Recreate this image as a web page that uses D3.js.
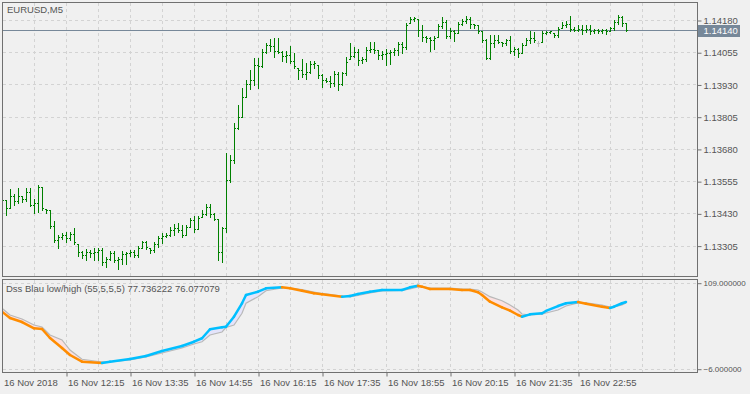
<!DOCTYPE html>
<html>
<head>
<meta charset="utf-8">
<script src="https://cdn.jsdelivr.net/npm/d3@7"></script>
<style>
  body { margin: 0; background: #f0f0f0; }
  svg { display: block; font-family: "Liberation Sans", Arial, sans-serif; font-size: 9.5px; }
</style>
</head>
<body>
<svg id="chart"></svg>
<script>
// EURUSD M5 bars, 16 Nov 2018 10:55 .. 23:55
const barOpen = [
  1.13473,1.13481,1.13450,1.13497,1.13477,1.13497,1.13485,1.13512,1.13462,1.13470,
  1.13532,1.13446,1.13442,1.13380,1.13326,1.13338,1.13345,1.13334,1.13349,1.13311,
  1.13280,1.13268,1.13280,1.13276,1.13280,1.13287,1.13241,1.13252,1.13276,1.13249,
  1.13252,1.13272,1.13276,1.13280,1.13268,1.13295,1.13318,1.13295,1.13287,1.13311,
  1.13334,1.13342,1.13345,1.13365,1.13373,1.13365,1.13345,1.13376,1.13404,1.13369,
  1.13415,1.13427,1.13454,1.13427,1.13407,1.13280,1.13373,1.13559,1.13637,1.13761,
  1.13803,1.13881,1.13932,1.13947,1.14005,1.14001,1.14056,1.14083,1.14079,1.14060,
  1.14056,1.14040,1.14044,1.14021,1.13994,1.13986,1.13970,1.13978,1.14009,1.14005,
  1.13966,1.13947,1.13943,1.13935,1.13970,1.13932,1.13974,1.14029,1.14040,1.14056,
  1.14025,1.14029,1.14064,1.14067,1.14064,1.14044,1.14048,1.14052,1.14056,1.14064,
  1.14087,1.14075,1.14169,1.14184,1.14184,1.14141,1.14114,1.14110,1.14102,1.14114,
  1.14157,1.14172,1.14118,1.14137,1.14130,1.14164,1.14176,1.14184,1.14164,1.14161,
  1.14137,1.14102,1.14032,1.14091,1.14102,1.14095,1.14091,1.14102,1.14060,1.14067,
  1.14052,1.14083,1.14102,1.14110,1.14091,1.14095,1.14130,1.14133,1.14130,1.14122,
  1.14149,1.14161,1.14164,1.14145,1.14141,1.14145,1.14141,1.14145,1.14137,1.14141,
  1.14137,1.14141,1.14137,1.14149,1.14172,1.14192,1.14169
];
const barHigh = [
  1.13489,1.13481,1.13524,1.13505,1.13528,1.13497,1.13528,1.13528,1.13485,1.13539,
  1.13532,1.13446,1.13442,1.13400,1.13345,1.13353,1.13357,1.13357,1.13373,1.13311,
  1.13283,1.13291,1.13287,1.13295,1.13295,1.13295,1.13260,1.13283,1.13283,1.13260,
  1.13283,1.13280,1.13287,1.13287,1.13303,1.13322,1.13322,1.13295,1.13318,1.13342,
  1.13353,1.13353,1.13376,1.13388,1.13392,1.13384,1.13384,1.13411,1.13419,1.13419,
  1.13442,1.13466,1.13466,1.13431,1.13407,1.13376,1.13664,1.13656,1.13780,1.13850,
  1.13916,1.13947,1.13986,1.14032,1.14032,1.14067,1.14091,1.14106,1.14110,1.14110,
  1.14060,1.14060,1.14079,1.14052,1.13994,1.14029,1.14013,1.14021,1.14021,1.14005,
  1.13970,1.13955,1.13963,1.13982,1.13978,1.13978,1.14036,1.14091,1.14075,1.14067,
  1.14036,1.14075,1.14095,1.14095,1.14064,1.14060,1.14067,1.14064,1.14071,1.14095,
  1.14095,1.14169,1.14192,1.14192,1.14184,1.14161,1.14118,1.14114,1.14118,1.14164,
  1.14192,1.14180,1.14149,1.14141,1.14172,1.14184,1.14196,1.14192,1.14164,1.14161,
  1.14137,1.14106,1.14122,1.14122,1.14122,1.14095,1.14106,1.14118,1.14075,1.14071,
  1.14091,1.14110,1.14137,1.14133,1.14098,1.14137,1.14137,1.14137,1.14130,1.14153,
  1.14172,1.14176,1.14196,1.14153,1.14161,1.14161,1.14161,1.14161,1.14145,1.14145,
  1.14145,1.14145,1.14153,1.14180,1.14199,1.14196,1.14169
];
const barLow = [
  1.13470,1.13423,1.13450,1.13462,1.13470,1.13473,1.13477,1.13458,1.13431,1.13435,
  1.13442,1.13431,1.13373,1.13318,1.13295,1.13330,1.13318,1.13326,1.13311,1.13264,
  1.13256,1.13249,1.13260,1.13249,1.13249,1.13229,1.13222,1.13249,1.13241,1.13214,
  1.13233,1.13233,1.13264,1.13260,1.13260,1.13295,1.13291,1.13276,1.13280,1.13299,
  1.13314,1.13338,1.13342,1.13345,1.13357,1.13338,1.13345,1.13376,1.13357,1.13369,
  1.13415,1.13423,1.13415,1.13404,1.13249,1.13241,1.13357,1.13551,1.13625,1.13757,
  1.13803,1.13881,1.13912,1.13928,1.13916,1.13998,1.14052,1.14060,1.14036,1.14052,
  1.14021,1.14017,1.14013,1.13994,1.13951,1.13959,1.13951,1.13974,1.13994,1.13955,
  1.13920,1.13939,1.13920,1.13924,1.13908,1.13928,1.13966,1.14029,1.14036,1.14005,
  1.14013,1.14021,1.14056,1.14052,1.14029,1.14029,1.14005,1.14009,1.14044,1.14044,
  1.14052,1.14067,1.14169,1.14176,1.14118,1.14098,1.14095,1.14060,1.14067,1.14114,
  1.14149,1.14110,1.14110,1.14098,1.14130,1.14161,1.14169,1.14149,1.14149,1.14130,
  1.14095,1.14029,1.14029,1.14075,1.14091,1.14079,1.14083,1.14052,1.14044,1.14036,
  1.14052,1.14083,1.14091,1.14095,1.14079,1.14095,1.14126,1.14130,1.14114,1.14114,
  1.14149,1.14153,1.14137,1.14137,1.14137,1.14126,1.14133,1.14126,1.14130,1.14130,
  1.14130,1.14126,1.14137,1.14141,1.14164,1.14157,1.14137
];
const barClose = [
  1.13481,1.13450,1.13497,1.13477,1.13497,1.13485,1.13512,1.13462,1.13470,1.13532,
  1.13450,1.13442,1.13380,1.13326,1.13338,1.13345,1.13334,1.13349,1.13318,1.13280,
  1.13268,1.13280,1.13276,1.13280,1.13287,1.13241,1.13252,1.13276,1.13249,1.13252,
  1.13272,1.13276,1.13280,1.13268,1.13295,1.13318,1.13299,1.13287,1.13311,1.13334,
  1.13342,1.13345,1.13365,1.13373,1.13365,1.13345,1.13376,1.13404,1.13369,1.13411,
  1.13427,1.13454,1.13427,1.13407,1.13280,1.13373,1.13559,1.13637,1.13761,1.13803,
  1.13881,1.13932,1.13947,1.14005,1.14001,1.14056,1.14083,1.14079,1.14060,1.14056,
  1.14040,1.14044,1.14021,1.14001,1.13986,1.13970,1.13978,1.14009,1.14013,1.13966,
  1.13947,1.13943,1.13935,1.13970,1.13932,1.13974,1.14017,1.14040,1.14056,1.14025,
  1.14029,1.14064,1.14067,1.14064,1.14044,1.14048,1.14052,1.14056,1.14064,1.14087,
  1.14075,1.14161,1.14184,1.14188,1.14141,1.14114,1.14110,1.14102,1.14110,1.14157,
  1.14172,1.14118,1.14137,1.14130,1.14164,1.14176,1.14184,1.14164,1.14161,1.14137,
  1.14102,1.14032,1.14091,1.14102,1.14095,1.14091,1.14102,1.14060,1.14067,1.14052,
  1.14083,1.14102,1.14110,1.14102,1.14091,1.14130,1.14133,1.14137,1.14122,1.14145,
  1.14161,1.14164,1.14145,1.14141,1.14145,1.14141,1.14145,1.14137,1.14141,1.14137,
  1.14141,1.14137,1.14149,1.14172,1.14192,1.14169,1.14140
];

const priceTicks = [1.14180, 1.14055, 1.13930, 1.13805, 1.13680, 1.13555, 1.13430, 1.13305];
const bidPrice = 1.14140;

const timeTickBars = [0, 16, 32, 48, 64, 80, 96, 112, 128, 144];
const timeTickLabels = ["16 Nov 2018", "16 Nov 12:15", "16 Nov 13:35", "16 Nov 14:55", "16 Nov 16:15",
  "16 Nov 17:35", "16 Nov 18:55", "16 Nov 20:15", "16 Nov 21:35", "16 Nov 22:55"];

// Dss Blau low/high (55,5,5,5), read at these bars
const dssBars = [0,2,5,8,10,12,15,17,20,25,27,32,36,40,45,48,50,52,55,56,58,60,61,64,66,70,72,75,78,80,
  85,87,89,92,95,100,102,104,105,107,112,115,117,119,120,122,125,127,129,130,132,135,136,139,141,144,
  146,150,152,153,155,156];
const dssMain = [70.2,61.8,56.4,48.0,47.1,35.1,21.7,12.3,3.4,1.6,3.4,7.0,11.0,17.7,24.4,30.1,34.7,46.7,49.4,50.2,
  63.5,81.5,92.6,97.0,101.5,102.8,101.5,98.3,94.8,93.5,90.3,91.2,93.9,97.0,99.2,99.2,102.8,105.0,103.7,100.6,
  100.6,99.2,99.2,96.2,92.6,83.6,76.1,71.6,65.8,63.5,66.7,68.1,71.2,77.8,81.5,83.2,80.9,76.9,75.2,76.9,81.5,83.2];
const dssSignal = [74.8,65.8,60.5,52.4,49.8,39.1,32.4,19.0,6.6,3.0,3.0,5.6,9.6,15.0,21.7,27.0,30.1,39.1,43.1,49.1,
  52.4,68.1,81.5,90.3,98.3,101.9,101.9,99.9,96.6,94.6,91.2,89.9,91.9,95.2,97.9,98.6,100.6,103.3,103.9,101.9,
  101.9,100.6,100.6,99.2,96.6,90.3,84.9,79.2,72.5,67.1,65.8,67.1,68.5,72.5,77.8,81.9,81.9,79.2,76.5,76.5,79.2,81.9];
const dssLevels = [109, -6];

const svg = d3.select("#chart").attr("width", 750).attr("height", 394);

const x = d3.scaleLinear().domain([0, 1]).range([2, 6]);
const y = d3.scaleLinear().domain([1.13305, 1.14180]).range([245.6, 20]);
const yd = d3.scaleLinear().domain([-6, 109]).range([368.7, 282.7]);

const gridColor = "#d3d3d3";
const frameColor = "#707070";
const textColor = "#555";
const gridBars = d3.range(8, 169, 8);

svg.append("clipPath").attr("id", "clipMain")
  .append("rect").attr("x", 3).attr("y", 3).attr("width", 694).attr("height", 273);
svg.append("clipPath").attr("id", "clipSub")
  .append("rect").attr("x", 3).attr("y", 280).attr("width", 694).attr("height", 92);

// main panel grid
const main = svg.append("g").attr("clip-path", "url(#clipMain)");
main.selectAll("line.vg").data(gridBars).enter().append("line")
  .attr("x1", d => Math.round(x(d)) + 0.5).attr("x2", d => Math.round(x(d)) + 0.5)
  .attr("y1", 3).attr("y2", 276)
  .attr("stroke", gridColor).attr("stroke-dasharray", "3,3");
main.selectAll("line.hg").data(priceTicks).enter().append("line")
  .attr("x1", 3).attr("x2", 697)
  .attr("y1", d => Math.round(y(d)) + 0.5).attr("y2", d => Math.round(y(d)) + 0.5)
  .attr("stroke", gridColor).attr("stroke-dasharray", "3,3");

main.append("line")
  .attr("x1", 3).attr("x2", 697)
  .attr("y1", Math.round(y(bidPrice)) + 0.5).attr("y2", Math.round(y(bidPrice)) + 0.5)
  .attr("stroke", "#778899");

// OHLC bars
const bars = d3.range(barOpen.length);
const barColor = i => barOpen[i] === barClose[i] ? "#c0c0c0" : "#008000";
const bar = main.selectAll("g.bar").data(bars).enter().append("g").attr("fill", barColor);
bar.append("rect")
  .attr("x", i => Math.round(x(i))).attr("width", 1)
  .attr("y", i => Math.round(y(barHigh[i])))
  .attr("height", i => Math.max(1, Math.round(y(barLow[i])) - Math.round(y(barHigh[i])) + 1));
bar.append("rect")
  .attr("x", i => Math.round(x(i)) - 1).attr("width", 1)
  .attr("y", i => Math.round(y(barOpen[i]))).attr("height", 1);
bar.append("rect")
  .attr("x", i => Math.round(x(i)) + 1).attr("width", 1)
  .attr("y", i => Math.round(y(barClose[i]))).attr("height", 1);

// indicator panel
const sub = svg.append("g").attr("clip-path", "url(#clipSub)");
sub.selectAll("line.vg").data(gridBars).enter().append("line")
  .attr("x1", d => Math.round(x(d)) + 0.5).attr("x2", d => Math.round(x(d)) + 0.5)
  .attr("y1", 280).attr("y2", 372)
  .attr("stroke", gridColor).attr("stroke-dasharray", "3,3");
sub.selectAll("line.hg").data(dssLevels).enter().append("line")
  .attr("x1", 3).attr("x2", 697)
  .attr("y1", d => Math.round(yd(d)) + 0.5).attr("y2", d => Math.round(yd(d)) + 0.5)
  .attr("stroke", gridColor).attr("stroke-dasharray", "3,3");

const segs = d3.range(1, dssBars.length);
const isUp = k => dssMain[k] >= dssSignal[k];
sub.selectAll("path.fill").data(segs).enter().append("path")
  .attr("d", k => "M" + [
    [x(dssBars[k - 1]), yd(dssMain[k - 1])], [x(dssBars[k]), yd(dssMain[k])],
    [x(dssBars[k]), yd(dssSignal[k])], [x(dssBars[k - 1]), yd(dssSignal[k - 1])]
  ].join("L") + "Z")
  .attr("fill", k => isUp(k) ? "#e4e4fb" : "#fbe0e0");

sub.append("path")
  .datum(d3.range(dssBars.length))
  .attr("d", d3.line().x(k => x(dssBars[k])).y(k => yd(dssSignal[k])))
  .attr("fill", "none").attr("stroke", "#b8b8b8").attr("stroke-width", 1.2);

sub.selectAll("line.dss").data(segs).enter().append("line")
  .attr("x1", k => x(dssBars[k - 1])).attr("y1", k => yd(dssMain[k - 1]))
  .attr("x2", k => x(dssBars[k])).attr("y2", k => yd(dssMain[k]))
  .attr("stroke", k => isUp(k) ? "#00bfff" : "#ff8c00")
  .attr("stroke-width", 2.5).attr("stroke-linecap", "round");

// frames
svg.append("rect").attr("x", 2.5).attr("y", 2.5).attr("width", 695).attr("height", 274)
  .attr("fill", "none").attr("stroke", frameColor);
svg.append("rect").attr("x", 2.5).attr("y", 279.5).attr("width", 695).attr("height", 93)
  .attr("fill", "none").attr("stroke", frameColor);

// right price scale
const priceAxis = svg.append("g").attr("transform", "translate(697.5,0.5)")
  .call(d3.axisRight(y).tickValues(priceTicks).tickSize(4).tickPadding(2).tickFormat(d3.format(".5f")));
const dssAxis = svg.append("g").attr("transform", "translate(697.5,0.5)")
  .call(d3.axisRight(yd).tickValues(dssLevels).tickSize(4).tickPadding(2).tickFormat(d3.format(".6f")));
const timeAxis = svg.append("g").attr("transform", "translate(0.5,372.5)")
  .call(d3.axisBottom(x).tickValues(timeTickBars).tickSize(4).tickFormat((d, i) => timeTickLabels[i]));

[priceAxis, dssAxis, timeAxis].forEach(g => {
  g.attr("font-family", null).attr("font-size", null);
  g.select(".domain").remove();
  g.selectAll(".tick line").attr("stroke", frameColor);
  g.selectAll(".tick text").attr("fill", textColor);
});
dssAxis.attr("font-size", "8px");
timeAxis.selectAll(".tick text").attr("text-anchor", "start").attr("x", 1).attr("y", 13).attr("dy", null);
timeAxis.select(".tick line").remove();

// bid label
svg.append("rect")
  .attr("x", 698).attr("y", Math.round(y(bidPrice)) - 5).attr("width", 42).attr("height", 12)
  .attr("fill", "#778899");
svg.append("text")
  .attr("x", 703.5).attr("y", Math.round(y(bidPrice)) + 4)
  .attr("fill", "#fff").text(d3.format(".5f")(bidPrice));

// captions
svg.append("text").attr("x", 7).attr("y", 13).attr("fill", textColor).text("EURUSD,M5");
svg.append("text").attr("x", 6).attr("y", 291.5).attr("fill", textColor)
  .text("Dss Blau low/high (55,5,5,5) 77.736222 76.077079");
</script>
</body>
</html>
